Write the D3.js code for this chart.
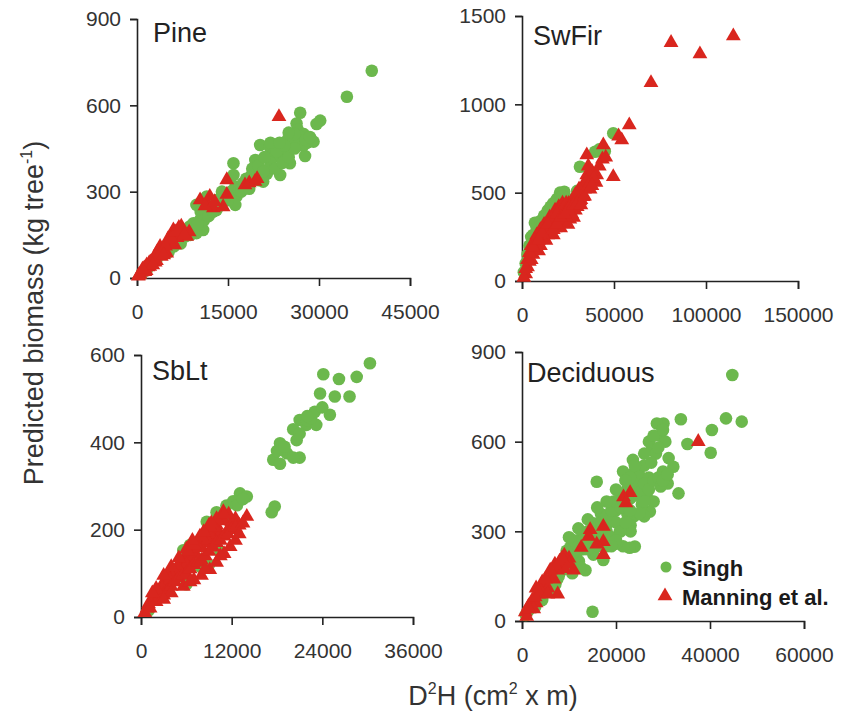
<!DOCTYPE html>
<html>
<head>
<meta charset="utf-8">
<script src="https://cdn.jsdelivr.net/npm/d3@7"></script>
<style>
  body { margin: 0; background: #fff; }
  text { font-family: "Liberation Sans", Arial, sans-serif; }
</style>
</head>
<body>
<svg id="chart" width="842" height="723"></svg>
<script>
// 1: DATA  ([D2H, predicted biomass])
const pineSingh = [[38700,720],[34600,630],[26900,574],[30200,547],[29600,535],[26300,537],[26500,515],[27500,500],[26900,490],[29100,474],[28000,470],[27400,460],[27700,424],[20300,462],[21900,455],[22700,458],[23500,455],[24600,445],[24000,430],[22500,430],[25200,399],[19500,410],[15900,399],[23600,358],[21400,362],[20800,335],[21900,385],[23000,424],[22000,400],[18900,358],[15900,358],[16200,317],[16400,283],[16200,254],[15000,270],[13100,271],[11500,283],[9800,254],[12000,225],[10400,202],[10900,167],[9800,156],[8700,179],[7600,155],[6500,132],[4900,97],[3200,63],[1600,28],[13100,236],[11500,247],[12500,260],[10500,230],[11000,200],[9300,190],[8200,165],[7000,140],[5600,112],[4200,85],[2500,50],[800,15],[14000,300],[17500,330],[19000,380],[20000,390],[21000,420],[25800,470],[24800,480],[23000,440],[18000,345],
    [5200,90],[6100,110],[7200,120],[8000,145],[8800,150],[9500,175],[10000,185],[11800,215],[12500,230],[13500,250],[14500,280],[15500,300],[16800,305],[17200,300],[18500,310],[20000,340],[20800,370],[22800,380],[24000,400],[25000,420],[26000,450],[27800,480],[28500,490],[26000,500],[25000,505],[24300,460],[22000,470],[23500,470]];
const pineManning = [[23400,560],[14800,341],[17800,323],[19450,335],[14800,290],[11500,260],[12600,243],[14200,247],[10400,271],[12000,283],[11200,250],[7100,155],[6000,167],[8200,144],[6600,140],[3800,109],[4900,86],[2700,63],[1000,28],[220,6],[2100,40],[3500,80],[5400,120],[6500,150],[4000,75],[3000,55],[1500,25],[500,12],[2400,48],[4500,95],[5800,128],[7500,165],[8600,160],[3300,90],[1200,35],[18500,330],[19800,345],[12800,265],[6200,115],[2000,52],
    [300,10],[700,20],[1300,22],[1800,38],[2200,55],[2800,70],[3200,60],[3600,95],[4200,100],[4700,110],[5100,135],[5600,140],[6300,160],[6900,175],[7300,180],[7800,150],[1600,45],[2600,45],[900,30],[4400,80]];

const swfirSingh = [[49600,836],[39700,732],[45000,735],[42000,745],[31500,647],[20700,500],[23000,505],[30000,510],[17000,440],[27000,410],[27000,390],[9000,330],[7000,330],[5000,250],[8000,300],[10000,340],[12000,370],[14000,400],[15500,420],[19000,465],[22000,480],[25000,460],[3000,150],[2000,100],[1000,50],[6000,260],[11000,320],[13000,350],[16000,380],[18000,420],[26000,430],[29000,450],[21000,450],[24000,470],[4000,200]];
const swfirManning = [[114850,1387],[81000,1349],[96700,1285],[70100,1122],[58300,883],[54200,798],[52500,820],[44200,770],[35200,713],[43700,690],[49600,590],[40600,600],[35200,600],[37000,560],[40200,557],[33300,477],[31500,453],[28900,477],[25300,438],[38000,620],[42000,650],[45500,700],[36000,650],[33000,540],[31000,500],[30000,420],[27000,380],[24000,400],[22000,340],[20000,380],[18000,300],[16000,330],[14000,260],[12000,280],[10000,200],[8000,220],[6000,150],[5000,120],[3000,80],[2000,40],[1000,20],[26000,350],[23000,420],[21000,300],[19000,350],[17000,260],[15000,300],[13000,230],[11000,240],[9000,170],[7000,180],[4000,110],[29000,400],[32000,460],[34000,520],[25000,320],[28000,360],[35000,560],[39000,580],[30000,470],[24000,360],
    [5000,200],[8000,260],[10000,290],[12000,320],[15000,360],[18000,400],[20000,420],[22000,440],[7000,230],[3000,120],[13000,300],[16000,350],[19000,380],[24000,440],[27000,450],[29000,490],[31000,520],[2000,70],[4000,160],[6000,190],[9000,230],[11000,270],[14000,320],[17000,290],[19000,320],[21000,360],[23000,380],[25000,400],[26000,420],[28000,430],[30000,440],[32000,430],[34000,480],[36000,540],[37000,520],[38000,540]];

const sbltSingh = [[30300,581],[28550,550],[24130,556],[26200,545],[23700,512],[25650,505],[27600,505],[25000,463],[21000,451],[21900,440],[23200,440],[20150,430],[21000,420],[18400,398],[20600,405],[17500,360],[19300,375],[18400,351],[21000,365],[20150,365],[22000,450],[22500,455],[17700,253],[17300,240],[13100,283],[14000,276],[12200,265],[12700,256],[11300,255],[10000,240],[11800,220],[12200,205],[8700,218],[5600,153],[7350,135],[7800,116],[4700,100],[3400,87],[9500,200],[10500,225],[6500,165],[2000,40],[1000,15],[8000,180],[13500,270],[18000,380],[19000,390],[23000,470],[22000,460],[24000,480],[9000,120],[10500,150],[6000,75]];
const sbltManning = [[10900,241],[14000,230],[12000,218],[9600,193],[7800,185],[10000,210],[8500,170],[7000,150],[6000,140],[5000,120],[4000,100],[3000,80],[2000,55],[1000,30],[500,10],[9000,200],[11000,220],[8000,160],[7500,170],[6500,130],[5500,125],[4500,105],[3500,95],[2500,60],[1500,40],[800,20],[12500,225],[11500,200],[10500,190],[9500,180],[9000,190],[8800,175],[7200,145],[6200,150],[5200,110],[4200,90],[3200,70],[2200,50],[13000,210],[6000,120],[4800,115],[3800,85],[2800,65],[1800,45],[7600,158],[9800,205],[11600,235],
    [1200,20],[2000,35],[2500,45],[3000,50],[3500,60],[4000,70],[4500,80],[5000,90],[5500,95],[6000,100],[6500,110],[7000,120],[7500,125],[8000,130],[8500,140],[9000,150],[9500,160],[10000,170],[10500,175],[11000,185],[11500,190],[12000,200],[12500,205],[13500,215],[3000,95],[4000,115],[5000,135],[6000,155],[7000,165],[8000,185],[9000,210],[10000,225],[11000,235],[2000,65],[1500,55],[6800,175],[8300,195],[9300,215],
    [5600,70],[7000,85],[8000,95],[9100,108],[10000,125],[11000,145],[11800,161],[4000,55],[3000,40],[6500,80],[8500,110],[10500,140],[12500,175],[13000,190]];

const decidSingh = [[44750,823],[46750,667],[43400,678],[40400,639],[40150,563],[35200,592],[33800,675],[30100,661],[28700,661],[29400,620],[29900,638],[27600,572],[31200,545],[32200,516],[23600,539],[31000,460],[33300,427],[15900,466],[29500,450],[25000,475],[25700,450],[24300,440],[27200,366],[23800,350],[22400,360],[23100,320],[24000,249],[22900,245],[21500,250],[23100,300],[20800,300],[15200,327],[12800,296],[20100,259],[17300,204],[15200,222],[10200,245],[9500,235],[12100,200],[13500,170],[10700,160],[7800,150],[7100,123],[5700,100],[4300,70],[2800,47],[1400,36],[15000,31],[21500,500],[24000,500],[25000,487],[22400,440],[19500,400],[16800,358],[26500,420],[28000,400],[27000,480],[26000,520],[30000,500],[21000,420],[20000,370],[18500,330],[18000,300],[16500,280],[14500,260],[13000,240],[11500,220],[9000,190],[8500,170],[6500,130],[5000,110],[3500,80],[2000,50],[800,20],[19000,350],[17500,310],[25500,390],[23000,410],[28500,560],[30500,600],[27500,530],[22000,380],[14000,300],[11000,270],[16000,250],[20000,330],[24500,420],[26000,350],[19000,280],[12500,180],
    [3000,60],[4000,90],[6000,120],[7500,140],[8000,180],[9000,210],[10000,200],[11000,230],[12000,250],[13000,270],[14000,240],[15000,280],[16000,300],[17000,330],[18000,350],[19000,370],[20000,400],[21000,380],[22000,400],[23000,430],[24000,460],[25000,430],[26000,460],[27000,440],[28000,470],[29000,480],[30000,470],[31000,490],[26000,560],[27000,600],[28000,620],[29000,580],[30000,640],[24000,520],[23000,480],[22000,470],[20000,440],[18000,400],[16000,380],[14000,340],[12000,310],[10000,280],[21000,300],[22000,330],[20000,270],[18000,250],[25000,360],[26000,400],[23000,370],[19000,250]];
const decidManning = [[37500,600],[23000,429],[21600,415],[22100,395],[17300,316],[14500,305],[14200,283],[17300,265],[15900,257],[17300,222],[12600,246],[9500,204],[8800,190],[11000,170],[7600,170],[6200,150],[4800,120],[4300,130],[7600,90],[3500,90],[2200,70],[1400,50],[700,30],[10000,210],[9000,175],[5500,110],[3000,60],[6800,140],[2500,40],[1000,15],
    [1500,40],[2800,80],[4000,100],[5000,140],[6000,170],[7000,190],[8000,200],[9000,220],[10000,190],[3000,110],[5500,90],[8500,210]];

const pineXTicks = [0, 15000, 30000, 45000];
const pineYTicks = [0, 300, 600, 900];
const swfirXTicks = [0, 50000, 100000, 150000];
const swfirYTicks = [0, 500, 1000, 1500];
const sbltXTicks = [0, 12000, 24000, 36000];
const sbltYTicks = [0, 200, 400, 600];
const decidXTicks = [0, 20000, 40000, 60000];
const decidYTicks = [0, 300, 600, 900];

const seriesNames = ["Singh", "Manning et al."];

// 2: LAYOUT
const green = "#6cb84d";
const red = "#d9261e";
const svg = d3.select("#chart");
const tri = d3.symbol(d3.symbolTriangle, 95);

const panels = [
    { name: "Pine", singh: pineSingh, manning: pineManning, xTicks: pineXTicks, yTicks: pineYTicks,
      left: 137, right: 410, bottom: 278, top: 19, tx: 153, ty: 42 },
    { name: "SwFir", singh: swfirSingh, manning: swfirManning, xTicks: swfirXTicks, yTicks: swfirYTicks,
      left: 522, right: 798, bottom: 281, top: 16, tx: 533, ty: 45 },
    { name: "SbLt", singh: sbltSingh, manning: sbltManning, xTicks: sbltXTicks, yTicks: sbltYTicks,
      left: 141, right: 413, bottom: 617, top: 355, tx: 152, ty: 380 },
    { name: "Deciduous", singh: decidSingh, manning: decidManning, xTicks: decidXTicks, yTicks: decidYTicks,
      left: 522, right: 804, bottom: 621, top: 352, tx: 527, ty: 382 }
];

function styleAxis(sel) {
    sel.attr("font-size", 21).attr("font-family", "Liberation Sans, Arial, sans-serif");
    sel.select(".domain").attr("stroke", "#222").attr("stroke-width", 1.6);
    sel.selectAll(".tick line").attr("stroke", "#222").attr("stroke-width", 1.6);
    sel.selectAll(".tick text").attr("fill", "#333");
}

// 3: PANELS
panels.forEach(p => {
    const x = d3.scaleLinear().domain(d3.extent(p.xTicks)).range([p.left, p.right]);
    const y = d3.scaleLinear().domain(d3.extent(p.yTicks)).range([p.bottom, p.top]);
    const g = svg.append("g");

    g.append("g")
        .attr("transform", `translate(0,${p.bottom})`)
        .call(d3.axisBottom(x).tickValues(p.xTicks).tickFormat(d3.format("d")).tickSizeOuter(0).tickSize(8).tickPadding(18))
        .call(styleAxis);

    g.append("g")
        .attr("transform", `translate(${p.left},0)`)
        .call(d3.axisLeft(y).tickValues(p.yTicks).tickFormat(d3.format("d")).tickSizeOuter(0).tickSize(7).tickPadding(9))
        .call(styleAxis);

    g.selectAll(".singh")
        .data(p.singh)
        .enter()
        .append("circle")
        .attr("class", "singh")
        .attr("cx", d => x(d[0]))
        .attr("cy", d => y(d[1]))
        .attr("r", 6.3)
        .attr("fill", green);

    g.selectAll(".manning")
        .data(p.manning)
        .enter()
        .append("path")
        .attr("class", "manning")
        .attr("d", tri)
        .attr("transform", d => `translate(${x(d[0])},${y(d[1])})`)
        .attr("fill", red);

    g.append("text")
        .attr("x", p.tx)
        .attr("y", p.ty)
        .attr("font-size", 27)
        .attr("fill", "#222")
        .text(p.name);
});

// 4: LEGEND (bottom-right panel)
const legend = svg.append("g").attr("transform", "translate(666,567)");
legend.append("circle").attr("cx", 0).attr("cy", 0).attr("r", 5.5).attr("fill", green);
legend.append("path").attr("d", tri).attr("transform", "translate(-1,29)").attr("fill", red);
legend.selectAll(".ltext")
    .data(seriesNames)
    .enter()
    .append("text")
    .attr("x", 16)
    .attr("y", (d, i) => 9 + i * 29)
    .attr("font-size", 22)
    .attr("font-weight", "bold")
    .attr("fill", "#1a1a1a")
    .text(d => d);

// 5: AXIS TITLES
const yTitle = svg.append("text")
    .attr("transform", "translate(43,313) rotate(-90)")
    .attr("text-anchor", "middle")
    .attr("font-size", 27)
    .attr("fill", "#333");
yTitle.append("tspan").text("Predicted biomass (kg tree");
yTitle.append("tspan").attr("dy", -11).attr("font-size", 16).text("-1");
yTitle.append("tspan").attr("dy", 11).text(")");

const xTitle = svg.append("text")
    .attr("x", 493)
    .attr("y", 705)
    .attr("text-anchor", "middle")
    .attr("font-size", 27)
    .attr("fill", "#333");
xTitle.append("tspan").text("D");
xTitle.append("tspan").attr("dy", -11).attr("font-size", 16).text("2");
xTitle.append("tspan").attr("dy", 11).text("H (cm");
xTitle.append("tspan").attr("dy", -11).attr("font-size", 16).text("2");
xTitle.append("tspan").attr("dy", 11).text(" x m)");
</script>
</body>
</html>
